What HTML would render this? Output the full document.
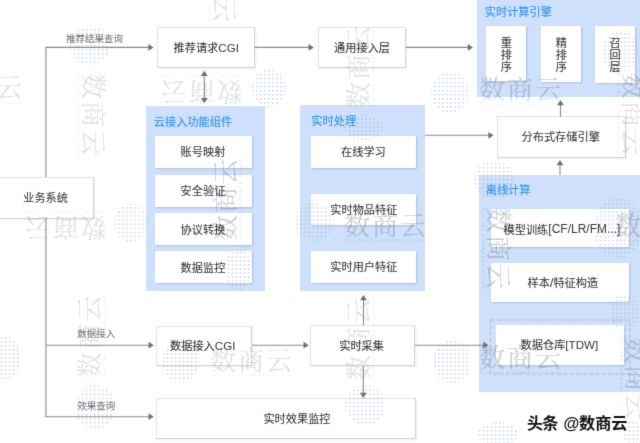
<!DOCTYPE html>
<html lang="zh">
<head>
<meta charset="utf-8">
<title>推荐系统架构</title>
<style>
html,body{margin:0;padding:0;background:#fff}
body{width:640px;height:443px;position:relative;overflow:hidden;font-family:"Liberation Sans",sans-serif}
.p{position:absolute;background:#cee0fb}
.b{position:absolute;background:#fff;border:1px solid #e2e2e2;border-right-color:#d2d2d2;border-bottom-color:#d2d2d2;box-sizing:border-box;box-shadow:1px 1px 2px rgba(0,0,0,.07)}
.w{position:absolute;background:#fff;box-shadow:1px 1px 1.5px rgba(90,110,150,.3)}
.d{position:absolute;box-sizing:border-box;border:1px dashed #b4c1d6}
.l{position:absolute;display:flex;align-items:center;white-space:nowrap;font-family:"Liberation Sans",sans-serif}
.l.v{display:block;text-align:center;color:transparent;overflow:hidden}
.z{display:block;color:transparent;overflow:hidden;height:100%}
.e{display:block}
.ov{position:absolute;left:0;top:0;pointer-events:none}
.cap{color:#111;font-weight:bold}
.at{text-shadow:-1px 0 #fff,1px 0 #fff,0 -1px #fff,0 1px #fff,-1px -1px #fff,1px 1px #fff,-1px 1px #fff,1px -1px #fff}
#c{position:absolute;left:0;top:0;width:640px;height:443px;overflow:hidden;background:#fff;filter:url(#bl)}

</style>
</head>
<body>
<div id="c">
<div class="p" style="left:477.4px;top:0px;width:162.6px;height:97.1px;"></div>
<div class="p" style="left:146.3px;top:105.7px;width:118.6px;height:185.3px;"></div>
<div class="p" style="left:300.3px;top:105.1px;width:124.9px;height:185.9px;"></div>
<div class="p" style="left:478.8px;top:175.4px;width:161.2px;height:216.5px;"></div>
<div class="b" style="left:156.9px;top:26.7px;width:97.8px;height:41.1px;"></div>
<div class="b" style="left:317.6px;top:26.7px;width:88.8px;height:41.1px;"></div>
<div class="b" style="left:-2.4px;top:176.6px;width:96px;height:42.2px;"></div>
<div class="b" style="left:155.8px;top:325.8px;width:96.6px;height:40.1px;"></div>
<div class="b" style="left:309.6px;top:324.8px;width:105.5px;height:41.1px;"></div>
<div class="b" style="left:156px;top:397.6px;width:259.6px;height:41.3px;"></div>
<div class="b" style="left:496.6px;top:116.4px;width:129.6px;height:41.3px;"></div>
<div class="w" style="left:155px;top:136px;width:97px;height:32px;"></div>
<div class="w" style="left:155px;top:175px;width:97px;height:32px;"></div>
<div class="w" style="left:155px;top:213px;width:97px;height:31.5px;"></div>
<div class="w" style="left:155px;top:251px;width:97px;height:31.5px;"></div>
<div class="w" style="left:310.5px;top:136px;width:105.5px;height:31.5px;"></div>
<div class="w" style="left:310.5px;top:194px;width:105.5px;height:30.5px;"></div>
<div class="w" style="left:310.5px;top:251px;width:105.5px;height:31.5px;"></div>
<div class="w" style="left:486.4px;top:26.1px;width:39.7px;height:55.2px;"></div>
<div class="w" style="left:541.2px;top:25.7px;width:40.3px;height:56.7px;"></div>
<div class="w" style="left:595px;top:25.6px;width:40px;height:57.3px;"></div>
<div class="w" style="left:491px;top:209px;width:138px;height:38px;"></div>
<div class="w" style="left:491px;top:263px;width:138px;height:39px;"></div>
<div class="w" style="left:495.6px;top:325px;width:128.8px;height:40px;"></div>
<div class="l" style="left:66px;top:31px;height:14px;line-height:14px;font-size:9.5px;color:#707070"><span class="z" style="width:57px">推荐结果查询</span></div>
<div class="l" style="left:77.25px;top:326.5px;height:14px;line-height:14px;font-size:9.5px;color:#707070"><span class="z" style="width:38px">数据接入</span></div>
<div class="l" style="left:77.25px;top:398px;height:14px;line-height:14px;font-size:9.5px;color:#707070"><span class="z" style="width:38px">效果查询</span></div>
<div class="l" style="left:173.54px;top:39px;height:17px;line-height:17px;font-size:11.2px;color:#343434"><span class="z" style="width:44.8px">推荐请求</span><span class="e" style="font-size:11.6px;">CGI</span></div>
<div class="l" style="left:334.1px;top:39px;height:17px;line-height:17px;font-size:11.2px;color:#343434"><span class="z" style="width:56px">通用接入层</span></div>
<div class="l" style="left:23.2px;top:189.5px;height:17px;line-height:17px;font-size:11.2px;color:#343434"><span class="z" style="width:44.8px">业务系统</span></div>
<div class="l" style="left:170.04px;top:337.25px;height:17px;line-height:17px;font-size:11.2px;color:#343434"><span class="z" style="width:44.8px">数据接入</span><span class="e" style="font-size:11.6px;">CGI</span></div>
<div class="l" style="left:339.2px;top:337.25px;height:17px;line-height:17px;font-size:11.2px;color:#343434"><span class="z" style="width:44.8px">实时采集</span></div>
<div class="l" style="left:263.4px;top:410.7px;height:17px;line-height:17px;font-size:11.2px;color:#343434"><span class="z" style="width:67.2px">实时效果监控</span></div>
<div class="l" style="left:521.55px;top:127.75px;height:17px;line-height:17px;font-size:11.2px;color:#343434"><span class="z" style="width:78.4px">分布式存储引擎</span></div>
<div class="l" style="left:484.8px;top:3.5px;height:17px;line-height:17px;font-size:11.2px;color:#2b95e8"><span class="z" style="width:67.2px">实时计算引擎</span></div>
<div class="l" style="left:153.8px;top:113.5px;height:17px;line-height:17px;font-size:11.2px;color:#2b95e8"><span class="z" style="width:78.4px">云接入功能组件</span></div>
<div class="l" style="left:311.35px;top:112px;height:17px;line-height:17px;font-size:11.2px;color:#2b95e8"><span class="z" style="width:44.8px">实时处理</span></div>
<div class="l" style="left:485.7px;top:181.5px;height:17px;line-height:17px;font-size:11.2px;color:#2b95e8"><span class="z" style="width:44.8px">离线计算</span></div>
<div class="l" style="left:180.6px;top:143px;height:17px;line-height:17px;font-size:11.2px;color:#343434"><span class="z" style="width:44.8px">账号映射</span></div>
<div class="l" style="left:180.6px;top:182.5px;height:17px;line-height:17px;font-size:11.2px;color:#343434"><span class="z" style="width:44.8px">安全验证</span></div>
<div class="l" style="left:180.6px;top:221px;height:17px;line-height:17px;font-size:11.2px;color:#343434"><span class="z" style="width:44.8px">协议转换</span></div>
<div class="l" style="left:180.6px;top:259px;height:17px;line-height:17px;font-size:11.2px;color:#343434"><span class="z" style="width:44.8px">数据监控</span></div>
<div class="l" style="left:341px;top:143.25px;height:17px;line-height:17px;font-size:11.2px;color:#343434"><span class="z" style="width:44.8px">在线学习</span></div>
<div class="l" style="left:330.3px;top:201px;height:17px;line-height:17px;font-size:11.2px;color:#343434"><span class="z" style="width:67.2px">实时物品特征</span></div>
<div class="l" style="left:330.3px;top:258.5px;height:17px;line-height:17px;font-size:11.2px;color:#343434"><span class="z" style="width:67.2px">实时用户特征</span></div>
<div class="l v" style="left:500.65px;top:37px;width:11.2px;line-height:12px;font-size:11.2px">重<br>排<br>序</div>
<div class="l v" style="left:555.65px;top:37px;width:11.2px;line-height:12px;font-size:11.2px">精<br>排<br>序</div>
<div class="l v" style="left:609.4px;top:37px;width:11.2px;line-height:12px;font-size:11.2px">召<br>回<br>层</div>
<div class="l" style="left:503.5px;top:220.75px;height:17px;line-height:17px;font-size:11.2px;color:#343434"><span class="z" style="width:44.8px">模型训练</span><span class="e" style="font-size:12px;">[CF/LR/FM...]</span></div>
<div class="l" style="left:527.56px;top:274.5px;height:17px;line-height:17px;font-size:11.2px;color:#343434"><span class="z" style="width:22.4px">样本</span><span class="e" style="font-size:12.5px;">/</span><span class="z" style="width:44.8px">特征构造</span></div>
<div class="l" style="left:520.57px;top:336px;height:17px;line-height:17px;font-size:11.2px;color:#343434"><span class="z" style="width:44.8px">数据仓库</span><span class="e" style="font-size:11.6px;">[TDW]</span></div>
<div class="l cap" style="left:527px;top:411px;height:24px;line-height:24px;font-size:16.2px"><span class="z" style="width:36.4px">头条 </span><span class="e at">@</span><span class="z" style="width:48.6px">数商云</span></div>
<svg class="ov" width="640" height="443" viewBox="0 0 640 443">
<defs><g id="wm"><text x="-1" y="21.6" font-family="Liberation Serif,Noto Serif CJK SC,serif" font-size="26" letter-spacing="2">数商云</text><text x="0" y="28.6" font-family="Liberation Sans,sans-serif" font-size="3.7" fill-opacity=".65" textLength="81" lengthAdjust="spacing">DIGITAL COMMERCE CLOUD</text></g><pattern id="dt" width="4.05" height="4.05" patternUnits="userSpaceOnUse"><circle cx="1.5" cy="1.5" r=".78" fill="#8ea4c0"/></pattern><radialGradient id="rg"><stop offset=".55" stop-color="#fff"/><stop offset="1" stop-color="#fff" stop-opacity="0"/></radialGradient><mask id="mk" maskContentUnits="objectBoundingBox"><rect width="1" height="1" fill="url(#rg)"/></mask><clipPath id="cb"><rect x="478" y="0" width="162" height="97.5"/><rect x="478" y="175.4" width="162" height="216.1"/><rect x="146" y="105.5" width="118.5" height="186"/><rect x="300.5" y="105" width="124.5" height="186.5"/></clipPath></defs>
<g fill="#7d7d7d" opacity=".23"><use href="#wm" transform="translate(-59,75)"/><use href="#wm" transform="translate(106,74) rotate(90)"/><use href="#wm" transform="translate(242,104) rotate(180)"/><use href="#wm" transform="translate(346,107) rotate(-90)"/><use href="#wm" transform="translate(480,77)"/><use href="#wm" transform="translate(646,74) rotate(90)"/><use href="#wm" transform="translate(106,240) rotate(180)"/><use href="#wm" transform="translate(213,240) rotate(-90)"/><use href="#wm" transform="translate(345,213)"/><use href="#wm" transform="translate(511,208) rotate(90)"/><use href="#wm" transform="translate(616,213)"/><use href="#wm" transform="translate(77,377) rotate(-90)"/><use href="#wm" transform="translate(211,348.75)"/><use href="#wm" transform="translate(346,380) rotate(-90)"/><use href="#wm" transform="translate(480,345)"/><use href="#wm" transform="translate(649,338) rotate(90)"/><use href="#wm" transform="translate(237,-59) rotate(90)"/></g>
<g fill="#5f6f88" opacity=".16" clip-path="url(#cb)"><use href="#wm" transform="translate(-59,75)"/><use href="#wm" transform="translate(106,74) rotate(90)"/><use href="#wm" transform="translate(242,104) rotate(180)"/><use href="#wm" transform="translate(346,107) rotate(-90)"/><use href="#wm" transform="translate(480,77)"/><use href="#wm" transform="translate(646,74) rotate(90)"/><use href="#wm" transform="translate(106,240) rotate(180)"/><use href="#wm" transform="translate(213,240) rotate(-90)"/><use href="#wm" transform="translate(345,213)"/><use href="#wm" transform="translate(511,208) rotate(90)"/><use href="#wm" transform="translate(616,213)"/><use href="#wm" transform="translate(77,377) rotate(-90)"/><use href="#wm" transform="translate(211,348.75)"/><use href="#wm" transform="translate(346,380) rotate(-90)"/><use href="#wm" transform="translate(480,345)"/><use href="#wm" transform="translate(649,338) rotate(90)"/><use href="#wm" transform="translate(237,-59) rotate(90)"/></g>
<g fill="url(#dt)" opacity=".68"><ellipse cx="90" cy="46" rx="20" ry="20"/><ellipse cx="269" cy="88" rx="17" ry="19"/><ellipse cx="450" cy="92" rx="19" ry="21"/><ellipse cx="131" cy="223" rx="17" ry="19"/><ellipse cx="6" cy="358" rx="14" ry="22"/><ellipse cx="95" cy="407" rx="20" ry="22"/><ellipse cx="181" cy="361" rx="19" ry="21"/><ellipse cx="238" cy="270" rx="14" ry="20"/><ellipse cx="365" cy="405" rx="20" ry="20"/><ellipse cx="314" cy="222" rx="20" ry="19"/><ellipse cx="364" cy="128" rx="19" ry="13"/><ellipse cx="494" cy="180" rx="20" ry="19"/><ellipse cx="452" cy="362" rx="19" ry="22"/><ellipse cx="620" cy="52" rx="18" ry="22"/><ellipse cx="625" cy="312" rx="15" ry="18"/><ellipse cx="618" cy="228" rx="24" ry="30"/><ellipse cx="632" cy="432" rx="10" ry="12"/><ellipse cx="498" cy="434" rx="20" ry="12"/></g>
<rect x="490.5" y="320" width="139.5" height="54" fill="none" stroke="#aebcd2" stroke-width="1" stroke-dasharray="4.2 2.2"/>
<path d="M45.9 177 L45.9 47.4 L150 47.4" fill="none" stroke="#8a8a8a" stroke-width="1.1"/>
<path d="M153.5 47.4 L148.3 44 L148.3 50.8 Z" fill="#707070"/>
<path d="M45.9 218 L45.9 416.7 L150 416.7" fill="none" stroke="#8a8a8a" stroke-width="1.1"/>
<path d="M153.75 416.7 L148.55 413.3 L148.55 420.1 Z" fill="#707070"/>
<path d="M45.9 345.2 L150 345.2" fill="none" stroke="#8a8a8a" stroke-width="1.1"/>
<path d="M153.75 345.2 L148.55 341.8 L148.55 348.6 Z" fill="#707070"/>
<path d="M254.5 47.4 L310 47.4" fill="none" stroke="#8a8a8a" stroke-width="1.1"/>
<path d="M313.75 47.4 L308.55 44 L308.55 50.8 Z" fill="#707070"/>
<path d="M406 47.4 L469 47.4" fill="none" stroke="#8a8a8a" stroke-width="1.1"/>
<path d="M473 47.4 L467.8 44 L467.8 50.8 Z" fill="#707070"/>
<path d="M204.3 74 L204.3 100" fill="none" stroke="#8a8a8a" stroke-width="1.1"/>
<path d="M204.3 70.8 L200.9 76 L207.7 76 Z" fill="#707070"/>
<path d="M204.3 103.2 L200.9 98 L207.7 98 Z" fill="#707070"/>
<path d="M425 135.3 L490 135.3" fill="none" stroke="#8a8a8a" stroke-width="1.1"/>
<path d="M493.6 135.3 L488.4 131.9 L488.4 138.7 Z" fill="#707070"/>
<path d="M560.5 117 L560.5 104" fill="none" stroke="#8a8a8a" stroke-width="1.1"/>
<path d="M560.5 100 L557.1 105.2 L563.9 105.2 Z" fill="#707070"/>
<path d="M560 175 L560 164" fill="none" stroke="#8a8a8a" stroke-width="1.1"/>
<path d="M560 160 L556.6 165.2 L563.4 165.2 Z" fill="#707070"/>
<path d="M252 345.2 L305 345.2" fill="none" stroke="#8a8a8a" stroke-width="1.1"/>
<path d="M308.75 345.2 L303.55 341.8 L303.55 348.6 Z" fill="#707070"/>
<path d="M415 345.2 L485 345.2" fill="none" stroke="#8a8a8a" stroke-width="1.1"/>
<path d="M488.4 345.2 L483.2 341.8 L483.2 348.6 Z" fill="#707070"/>
<path d="M363.5 325 L363.5 299" fill="none" stroke="#8a8a8a" stroke-width="1.1"/>
<path d="M363.5 295 L360.1 300.2 L366.9 300.2 Z" fill="#707070"/>
<path d="M363.3 365.5 L363.3 394" fill="none" stroke="#8a8a8a" stroke-width="1.1"/>
<path d="M363.3 398 L359.9 392.8 L366.7 392.8 Z" fill="#707070"/>
<text x="66" y="41.61" font-family="Liberation Sans,Noto Sans CJK SC,sans-serif" font-size="9.5" fill="#707070">推荐结果查询</text>
<text x="77.25" y="337.11" font-family="Liberation Sans,Noto Sans CJK SC,sans-serif" font-size="9.5" fill="#707070">数据接入</text>
<text x="77.25" y="408.61" font-family="Liberation Sans,Noto Sans CJK SC,sans-serif" font-size="9.5" fill="#707070">效果查询</text>
<text x="173.54" y="51.76" font-family="Liberation Sans,Noto Sans CJK SC,sans-serif" font-size="11.2" fill="#343434" stroke="#343434" stroke-width=".08">推荐请求</text>
<text x="334.1" y="51.76" font-family="Liberation Sans,Noto Sans CJK SC,sans-serif" font-size="11.2" fill="#343434" stroke="#343434" stroke-width=".08">通用接入层</text>
<text x="23.2" y="202.26" font-family="Liberation Sans,Noto Sans CJK SC,sans-serif" font-size="11.2" fill="#343434" stroke="#343434" stroke-width=".08">业务系统</text>
<text x="170.04" y="350.01" font-family="Liberation Sans,Noto Sans CJK SC,sans-serif" font-size="11.2" fill="#343434" stroke="#343434" stroke-width=".08">数据接入</text>
<text x="339.2" y="350.01" font-family="Liberation Sans,Noto Sans CJK SC,sans-serif" font-size="11.2" fill="#343434" stroke="#343434" stroke-width=".08">实时采集</text>
<text x="263.4" y="423.46" font-family="Liberation Sans,Noto Sans CJK SC,sans-serif" font-size="11.2" fill="#343434" stroke="#343434" stroke-width=".08">实时效果监控</text>
<text x="521.55" y="140.51" font-family="Liberation Sans,Noto Sans CJK SC,sans-serif" font-size="11.2" fill="#343434" stroke="#343434" stroke-width=".08">分布式存储引擎</text>
<text x="484.8" y="16.26" font-family="Liberation Sans,Noto Sans CJK SC,sans-serif" font-size="11.2" fill="#2b95e8" stroke="#2b95e8" stroke-width=".1">实时计算引擎</text>
<text x="153.8" y="126.26" font-family="Liberation Sans,Noto Sans CJK SC,sans-serif" font-size="11.2" fill="#2b95e8" stroke="#2b95e8" stroke-width=".1">云接入功能组件</text>
<text x="311.35" y="124.76" font-family="Liberation Sans,Noto Sans CJK SC,sans-serif" font-size="11.2" fill="#2b95e8" stroke="#2b95e8" stroke-width=".1">实时处理</text>
<text x="485.7" y="194.26" font-family="Liberation Sans,Noto Sans CJK SC,sans-serif" font-size="11.2" fill="#2b95e8" stroke="#2b95e8" stroke-width=".1">离线计算</text>
<text x="180.6" y="155.76" font-family="Liberation Sans,Noto Sans CJK SC,sans-serif" font-size="11.2" fill="#343434" stroke="#343434" stroke-width=".08">账号映射</text>
<text x="180.6" y="195.26" font-family="Liberation Sans,Noto Sans CJK SC,sans-serif" font-size="11.2" fill="#343434" stroke="#343434" stroke-width=".08">安全验证</text>
<text x="180.6" y="233.76" font-family="Liberation Sans,Noto Sans CJK SC,sans-serif" font-size="11.2" fill="#343434" stroke="#343434" stroke-width=".08">协议转换</text>
<text x="180.6" y="271.76" font-family="Liberation Sans,Noto Sans CJK SC,sans-serif" font-size="11.2" fill="#343434" stroke="#343434" stroke-width=".08">数据监控</text>
<text x="341" y="156.01" font-family="Liberation Sans,Noto Sans CJK SC,sans-serif" font-size="11.2" fill="#343434" stroke="#343434" stroke-width=".08">在线学习</text>
<text x="330.3" y="213.76" font-family="Liberation Sans,Noto Sans CJK SC,sans-serif" font-size="11.2" fill="#343434" stroke="#343434" stroke-width=".08">实时物品特征</text>
<text x="330.3" y="271.26" font-family="Liberation Sans,Noto Sans CJK SC,sans-serif" font-size="11.2" fill="#343434" stroke="#343434" stroke-width=".08">实时用户特征</text>
<text x="500.65" y="47.26" font-family="Liberation Sans,Noto Sans CJK SC,sans-serif" font-size="11.2" fill="#343434" stroke="#343434" stroke-width=".08">重</text>
<text x="500.65" y="59.26" font-family="Liberation Sans,Noto Sans CJK SC,sans-serif" font-size="11.2" fill="#343434" stroke="#343434" stroke-width=".08">排</text>
<text x="500.65" y="71.26" font-family="Liberation Sans,Noto Sans CJK SC,sans-serif" font-size="11.2" fill="#343434" stroke="#343434" stroke-width=".08">序</text>
<text x="555.65" y="47.26" font-family="Liberation Sans,Noto Sans CJK SC,sans-serif" font-size="11.2" fill="#343434" stroke="#343434" stroke-width=".08">精</text>
<text x="555.65" y="59.26" font-family="Liberation Sans,Noto Sans CJK SC,sans-serif" font-size="11.2" fill="#343434" stroke="#343434" stroke-width=".08">排</text>
<text x="555.65" y="71.26" font-family="Liberation Sans,Noto Sans CJK SC,sans-serif" font-size="11.2" fill="#343434" stroke="#343434" stroke-width=".08">序</text>
<text x="609.4" y="47.26" font-family="Liberation Sans,Noto Sans CJK SC,sans-serif" font-size="11.2" fill="#343434" stroke="#343434" stroke-width=".08">召</text>
<text x="609.4" y="59.26" font-family="Liberation Sans,Noto Sans CJK SC,sans-serif" font-size="11.2" fill="#343434" stroke="#343434" stroke-width=".08">回</text>
<text x="609.4" y="71.26" font-family="Liberation Sans,Noto Sans CJK SC,sans-serif" font-size="11.2" fill="#343434" stroke="#343434" stroke-width=".08">层</text>
<text x="503.5" y="233.51" font-family="Liberation Sans,Noto Sans CJK SC,sans-serif" font-size="11.2" fill="#343434" stroke="#343434" stroke-width=".08">模型训练</text>
<text x="527.56" y="287.26" font-family="Liberation Sans,Noto Sans CJK SC,sans-serif" font-size="11.2" fill="#343434" stroke="#343434" stroke-width=".08">样本</text>
<text x="553.44" y="287.26" font-family="Liberation Sans,Noto Sans CJK SC,sans-serif" font-size="11.2" fill="#343434" stroke="#343434" stroke-width=".08">特征构造</text>
<text x="520.57" y="348.76" font-family="Liberation Sans,Noto Sans CJK SC,sans-serif" font-size="11.2" fill="#343434" stroke="#343434" stroke-width=".08">数据仓库</text>
<text x="527" y="428.66" font-family="Liberation Sans,Noto Sans CJK SC,sans-serif" font-size="16.2" font-weight="bold" fill="#111" stroke="#fff" stroke-width="1.54" paint-order="stroke" stroke-linejoin="round">头</text>
<text x="542.3" y="428.66" font-family="Liberation Sans,Noto Sans CJK SC,sans-serif" font-size="16.2" font-weight="bold" fill="#111" stroke="#fff" stroke-width="1.54" paint-order="stroke" stroke-linejoin="round">条</text>
<text x="579" y="428.66" font-family="Liberation Sans,Noto Sans CJK SC,sans-serif" font-size="16.2" font-weight="bold" fill="#111" stroke="#fff" stroke-width="1.54" paint-order="stroke" stroke-linejoin="round">数商云</text>
</svg>
</div>
<svg width="0" height="0" style="position:absolute"><filter id="bl" x="0" y="0" width="1" height="1" color-interpolation-filters="sRGB"><feConvolveMatrix order="3" kernelMatrix="1 5 1 5 40 5 1 5 1" edgeMode="duplicate" preserveAlpha="true"/></filter></svg>
</body>
</html>
